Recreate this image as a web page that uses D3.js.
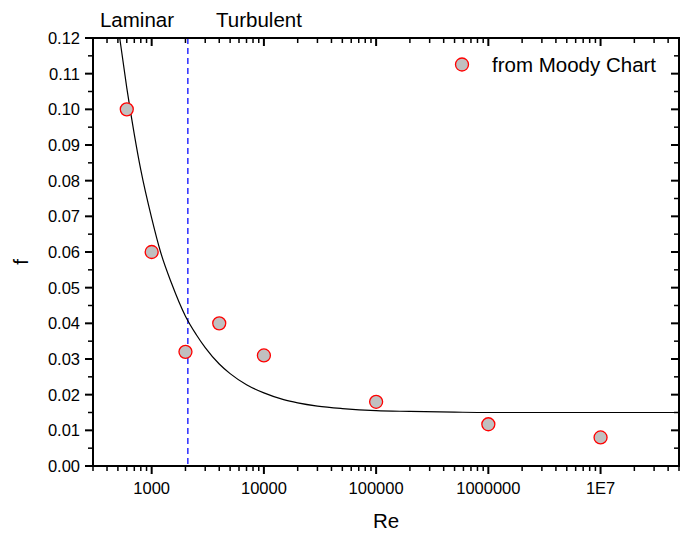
<!DOCTYPE html>
<html>
<head>
<meta charset="utf-8">
<script src="https://cdn.jsdelivr.net/npm/d3@7"></script>
<style>
  body { margin: 0; background: #fff; }
  text { font-family: "Liberation Sans", Arial, sans-serif; fill: #000; }
  .tick-label { font-size: 16.5px; }
  .big { font-size: 20.5px; }
</style>
</head>
<body>
<div id="chart"></div>
<script>
// measured points (from Moody chart)
const reValues = [600, 1000, 2000, 4000, 10000, 100000, 1000000, 10000000];
const fValues = [0.100, 0.060, 0.032, 0.040, 0.031, 0.018, 0.0117, 0.008];

// fitted curve
const curveRe = [519, 600, 700, 800, 1000, 1200, 1500, 2000, 2500, 3000, 4000, 5000, 7000,
  10000, 15000, 20000, 30000, 50000, 100000, 200000, 500000, 1000000, 10000000, 50000000];
const curveF = [0.120, 0.106, 0.093, 0.083, 0.0695, 0.060, 0.0513, 0.042, 0.0368, 0.0332, 0.0286, 0.0259, 0.0228,
  0.0205, 0.0186, 0.0177, 0.0168, 0.0161, 0.0155, 0.0153, 0.0151, 0.0150, 0.0150, 0.0150];

const xTicks = [1000, 10000, 100000, 1000000, 10000000];
const xTickLabels = ["1000", "10000", "100000", "1000000", "1E7"];
const yTicks = d3.range(0, 0.1201, 0.01);
const transitionRe = 2100;
const regionLabels = ["Laminar", "Turbulent"];
const legendLabel = "from Moody Chart";

const width = 688, height = 533;
const margin = {top: 38, right: 9, bottom: 67, left: 93};

const svg = d3.select('#chart').append('svg')
  .attr('width', width)
  .attr('height', height);

const x = d3.scaleLog()
  .domain([300, 50000000])
  .range([margin.left, width - margin.right]);

const y = d3.scaleLinear()
  .domain([0, 0.12])
  .range([height - margin.bottom, margin.top]);

const x0 = x.range()[0], x1 = x.range()[1];
const y0 = y.range()[0], y1 = y.range()[1];

// minor ticks
const xMinor = [];
for (let e = 2; e <= 7; e++) {
  for (let m = 1; m <= 9; m++) {
    const v = m * Math.pow(10, e);
    if (v >= 300 && v <= 50000000 && m !== 1) xMinor.push(v);
  }
}
const yMinor = d3.range(0.005, 0.12, 0.01);

const clip = svg.append('clipPath').attr('id', 'plot-clip')
  .append('rect')
  .attr('x', x0).attr('y', y1)
  .attr('width', x1 - x0).attr('height', y0 - y1);

const plot = svg.append('g').attr('clip-path', 'url(#plot-clip)');

// dashed transition line
plot.append('line')
  .attr('x1', x(transitionRe)).attr('x2', x(transitionRe))
  .attr('y1', y1).attr('y2', y0)
  .attr('stroke', '#2b2bff')
  .attr('stroke-width', 1.5)
  .attr('stroke-dasharray', '6,4');

// fitted curve
const line = d3.line()
  .x((d, i) => x(curveRe[i]))
  .y(d => y(d))
  .curve(d3.curveMonotoneX);

plot.append('path')
  .attr('d', line(curveF))
  .attr('fill', 'none')
  .attr('stroke', '#000')
  .attr('stroke-width', 1.2);

// points
svg.append('g').selectAll('circle')
  .data(fValues)
  .enter()
  .append('circle')
  .attr('cx', (d, i) => x(reValues[i]))
  .attr('cy', d => y(d))
  .attr('r', 6.5)
  .attr('fill', '#c0c0c0')
  .attr('stroke', '#ff0000')
  .attr('stroke-width', 1.3);

// axes
const axes = svg.append('g').attr('stroke', '#000');

// bottom (outward)
xTicks.forEach(v => axes.append('line').attr('x1', x(v)).attr('x2', x(v)).attr('y1', y0).attr('y2', y0 + 8).attr('stroke-width', 2));
xMinor.forEach(v => axes.append('line').attr('x1', x(v)).attr('x2', x(v)).attr('y1', y0).attr('y2', y0 + 5).attr('stroke-width', 1.5));
// top (inward)
xTicks.forEach(v => axes.append('line').attr('x1', x(v)).attr('x2', x(v)).attr('y1', y1).attr('y2', y1 + 8).attr('stroke-width', 2));
xMinor.forEach(v => axes.append('line').attr('x1', x(v)).attr('x2', x(v)).attr('y1', y1).attr('y2', y1 + 5).attr('stroke-width', 1.5));
// left (outward)
yTicks.forEach(v => axes.append('line').attr('x1', x0 - 8).attr('x2', x0).attr('y1', y(v)).attr('y2', y(v)).attr('stroke-width', 2));
yMinor.forEach(v => axes.append('line').attr('x1', x0 - 5).attr('x2', x0).attr('y1', y(v)).attr('y2', y(v)).attr('stroke-width', 1.5));
// right (inward)
yTicks.forEach(v => axes.append('line').attr('x1', x1 - 8).attr('x2', x1).attr('y1', y(v)).attr('y2', y(v)).attr('stroke-width', 2));
yMinor.forEach(v => axes.append('line').attr('x1', x1 - 5).attr('x2', x1).attr('y1', y(v)).attr('y2', y(v)).attr('stroke-width', 1.5));

axes.append('rect')
  .attr('x', x0).attr('y', y1)
  .attr('width', x1 - x0).attr('height', y0 - y1)
  .attr('fill', 'none')
  .attr('stroke-width', 2);

// tick labels
svg.append('g').selectAll('text')
  .data(xTicks)
  .enter()
  .append('text')
  .attr('class', 'tick-label')
  .attr('x', d => x(d))
  .attr('y', y0 + 28)
  .attr('text-anchor', 'middle')
  .text((d, i) => xTickLabels[i]);

svg.append('g').selectAll('text')
  .data(yTicks)
  .enter()
  .append('text')
  .attr('class', 'tick-label')
  .attr('x', x0 - 13)
  .attr('y', d => y(d) + 6)
  .attr('text-anchor', 'end')
  .text(d => d3.format('.2f')(d));

// axis titles
svg.append('text')
  .attr('class', 'big')
  .attr('x', (x0 + x1) / 2)
  .attr('y', 528)
  .attr('text-anchor', 'middle')
  .text('Re');

svg.append('text')
  .attr('class', 'big')
  .attr('transform', `translate(28,${(y0 + y1) / 2 + 10}) rotate(-90)`)
  .attr('text-anchor', 'middle')
  .text('f');

// region labels
svg.append('text').attr('class', 'big')
  .attr('x', 137).attr('y', 27).attr('text-anchor', 'middle').text(regionLabels[0]);
svg.append('text').attr('class', 'big')
  .attr('x', 259).attr('y', 27).attr('text-anchor', 'middle').text(regionLabels[1]);

// legend
svg.append('circle')
  .attr('cx', 462).attr('cy', 64.5).attr('r', 6.5)
  .attr('fill', '#c0c0c0').attr('stroke', '#ff0000').attr('stroke-width', 1.3);
svg.append('text').attr('class', 'big')
  .attr('x', 492).attr('y', 72).text(legendLabel);
</script>
</body>
</html>
